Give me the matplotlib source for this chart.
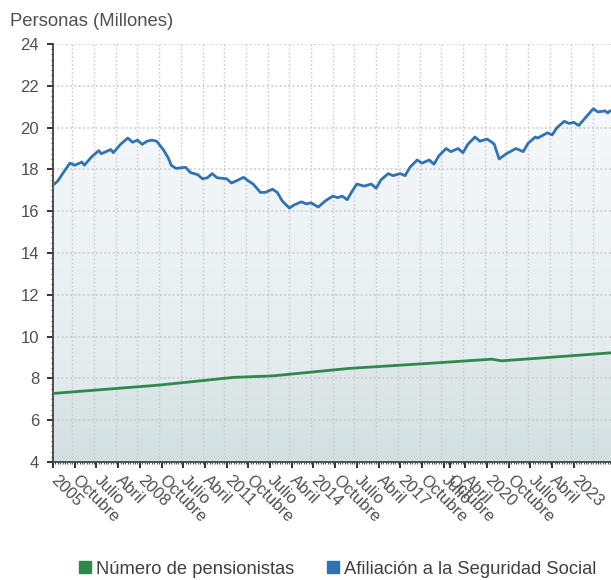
import numpy as np
import matplotlib
matplotlib.use("Agg")
import matplotlib.pyplot as plt
import matplotlib.transforms as mtransforms
from matplotlib.patches import Polygon
from matplotlib.lines import Line2D
from matplotlib.colors import to_rgb

plt.rcParams['font.family'] = ['Liberation Sans', 'DejaVu Sans']

# months counted from January 2005
afil_months = [0, 2, 4, 7, 9, 12, 13, 16, 19, 20, 24, 25, 28, 31, 33, 35, 37, 39, 41, 43,
               46, 48, 49, 51, 55, 57, 60, 62, 64, 66, 68, 72, 74, 76, 79, 81, 83, 86, 88, 91,
               93, 95, 98, 100, 103, 105, 107, 110, 113, 116, 118, 120, 122, 124, 126, 129, 132, 134, 136, 139,
               141, 144, 146, 148, 151, 153, 156, 158, 160, 163, 165, 168, 170, 172, 175, 177, 180, 182, 183, 185,
               188, 192, 193, 195, 197, 200, 201, 205, 207, 209, 212, 214, 216, 218, 221, 224, 226, 229, 230, 231, 234]
afil_values = [17.25, 17.45, 17.8, 18.3, 18.2, 18.35, 18.2, 18.6, 18.9, 18.75, 18.95, 18.8, 19.2, 19.5, 19.3, 19.4, 19.2, 19.35, 19.4, 19.35,
               18.9, 18.5, 18.2, 18.05, 18.1, 17.85, 17.75, 17.55, 17.6, 17.8, 17.6, 17.55, 17.35, 17.45, 17.62, 17.45, 17.3, 16.9, 16.9, 17.05,
               16.9, 16.5, 16.15, 16.3, 16.45, 16.35, 16.4, 16.2, 16.5, 16.72, 16.65, 16.72, 16.55, 16.95, 17.3, 17.2, 17.3, 17.1, 17.5, 17.8,
               17.7, 17.8, 17.7, 18.1, 18.45, 18.3, 18.45, 18.25, 18.65, 19.0, 18.85, 19.0, 18.8, 19.2, 19.55, 19.35, 19.45, 19.3, 19.2, 18.5,
               18.75, 19.0, 18.95, 18.85, 19.25, 19.55, 19.5, 19.75, 19.65, 20.0, 20.3, 20.2, 20.25, 20.1, 20.5, 20.9, 20.75, 20.8, 20.7, 20.8, 20.85]

pens_months = [0, 44, 75, 91, 123, 156, 182, 186, 204, 231, 234]
pens_values = [7.28, 7.68, 8.05, 8.12, 8.48, 8.72, 8.92, 8.84, 8.99, 9.22, 9.25]

tick_months = [0, 9, 18, 27, 36, 45, 54, 63, 72, 81, 90, 99, 108, 117, 126, 135,
               144, 153, 162, 164.5, 171, 180, 189, 198, 207, 216]
tick_labels = ["2005", "Octubre", "Julio", "Abril", "2008", "Octubre", "Julio", "Abril",
               "2011", "Octubre", "Julio", "Abril", "2014", "Octubre", "Julio", "Abril",
               "2017", "Octubre", "Julio", "Octubre", "Abril", "2020", "Octubre", "Julio", "Abril", "2023"]
y_ticks = [4, 6, 8, 10, 12, 14, 16, 18, 20, 22, 24]

series_names = ["Número de pensionistas", "Afiliación a la Seguridad Social"]
blue = '#2f73b4'
green = '#2e8a4a'

fig = plt.figure(figsize=(6.11, 5.8), dpi=100)
ax = fig.add_axes([53 / 611, 118 / 580, 566.7 / 611, 418 / 580])
x_max = 235
ax.set_xlim(0, x_max)
ax.set_ylim(4, 24)


def grad_fill(xs, ys, c_top, c_bot, y_top, z):
    verts = list(zip(xs, ys)) + [(xs[-1], 4), (xs[0], 4)]
    patch = Polygon(verts, facecolor='none', edgecolor='none')
    ax.add_patch(patch)
    t = np.linspace(0, 1, 256)[:, None]
    ct, cb = np.array(to_rgb(c_top)), np.array(to_rgb(c_bot))
    img = (cb + (ct - cb) * t)[:, None, :]
    im = ax.imshow(img, extent=[xs[0], xs[-1], 4, y_top], origin='lower',
                   aspect='auto', zorder=z, interpolation='bilinear')
    im.set_clip_path(patch)


grad_fill(afil_months, afil_values, '#f7f9fc', '#dce7e9', 21.5, 0.5)
grad_fill(pens_months, pens_values, '#e0e9eb', '#d2dfe0', 9.3, 0.6)

# dotted grid
for yv in y_ticks[1:]:
    ax.axhline(yv, color='#c8c8c8', lw=1.1, ls=(0, (1.2, 1.6)), zorder=1)
for xv in np.arange(8, x_max, 9):
    ax.axvline(xv, color='#cccccc', lw=1.0, ls=(0, (1.2, 1.6)), zorder=1)

ax.plot(pens_months, pens_values, color=green, lw=2.0, zorder=3, solid_joinstyle='round')
ax.plot(afil_months, afil_values, color=blue, lw=2.0, zorder=3, solid_joinstyle='round')

ax.set_yticks(y_ticks)
ax.set_yticklabels([str(v) for v in y_ticks])
ax.set_xticks(tick_months)
ax.set_xticklabels([])
ax.set_xticks(np.arange(0, x_max, 1), minor=True)
ax.set_yticks(np.arange(4, 24.01, 0.25), minor=True)

# rotated month labels hanging from each tick
lbl_trans = ax.get_xaxis_transform() + mtransforms.ScaledTranslation(5.5 / 100, -11 / 100, fig.dpi_scale_trans)
for m, lab in zip(tick_months, tick_labels):
    ax.text(m, 0, lab, transform=lbl_trans, rotation=-45, ha='left', va='top',
            rotation_mode='anchor', fontsize=12, color='#505050', clip_on=False)

ax.tick_params(axis='both', which='major', length=4, width=1.4, color='#333333',
               labelsize=12, labelcolor='#505050')
ax.tick_params(axis='y', which='major', pad=6, labelsize=12)
ax.tick_params(axis='both', which='minor', length=1.5, width=0.8, color='#555555')

for s in ['top', 'right']:
    ax.spines[s].set_visible(False)
for s in ['left', 'bottom']:
    ax.spines[s].set_color('#444444')
    ax.spines[s].set_linewidth(1.3)

fig.text(10 / 611, 1 - 26 / 580, "Personas (Millones)", fontsize=13.3,
         color='#505050', va='baseline', ha='left')

handles = [Line2D([], [], ls='none', marker='s', markersize=9, color=green),
           Line2D([], [], ls='none', marker='s', markersize=9, color=blue)]
fig.legend(handles, series_names, loc='center', bbox_to_anchor=(336 / 611, 1 - 569 / 580),
           ncol=2, frameon=False, fontsize=13.2, handletextpad=0.1, columnspacing=1.6,
           labelcolor='#404040', handlelength=1.0)

fig.savefig('out.png', dpi=100)
